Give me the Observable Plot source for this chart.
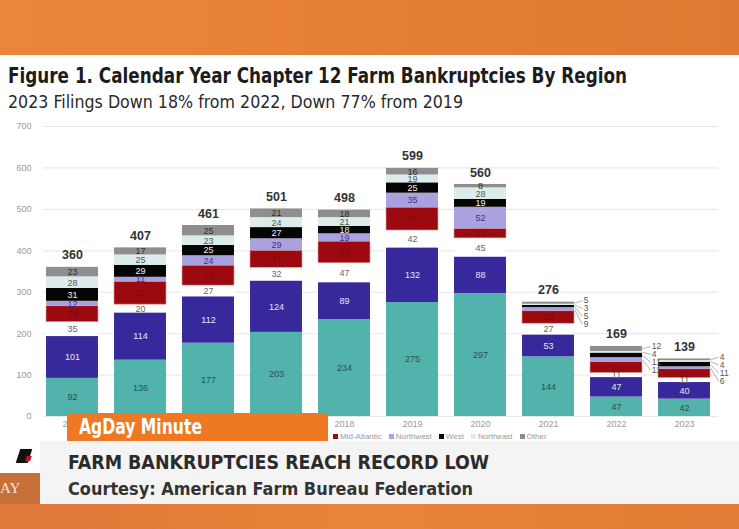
<!DOCTYPE html>
<html><head><meta charset="utf-8">
<script src="https://cdn.jsdelivr.net/npm/d3@7"></script>
<script src="https://cdn.jsdelivr.net/npm/@observablehq/plot@0.6"></script>
<style>
body{margin:0;width:739px;height:529px;overflow:hidden;background:#fff;position:relative;font-family:"DejaVu Sans Condensed","Liberation Sans",sans-serif;}
#topband{position:absolute;left:0;top:0;width:739px;height:55px;background:linear-gradient(90deg,#ea8639,#e67f36 50%,#df7832);}
#botband{position:absolute;left:0;top:504px;width:739px;height:25px;background:linear-gradient(90deg,#e0783a,#e88438 50%,#e27c36);}
.fit{position:absolute;white-space:nowrap;transform-origin:0 0;}
#title{left:8px;top:64px;font-size:21px;font-weight:bold;color:#1c1c1c;}
#subtitle{left:8px;top:91px;font-size:18px;color:#2a2a2a;}
#chart{position:absolute;left:0;top:0;}
.leg{position:absolute;top:432px;font-size:8px;color:#9a9a9a;white-space:nowrap;display:flex;gap:7px;font-family:"Liberation Sans",sans-serif;}
.leg span i{display:inline-block;width:5px;height:5px;margin-right:2px;vertical-align:middle;}
#agday{position:absolute;left:67px;top:413px;width:261px;height:28px;background:#ef7822;}
#agtext{left:79px;top:414px;color:#fff;font-weight:bold;font-size:22px;}
#lower{position:absolute;left:40px;top:441px;width:699px;height:63px;background:#f4f4f4;}
#head{left:68px;top:450px;font-size:20px;font-weight:bold;color:#2b2b2b;}
#court{left:68px;top:478px;font-size:18.5px;font-weight:bold;color:#333;}
#aybox{position:absolute;left:0;top:473px;width:40px;height:31px;background:#c8703a;color:#f3e6dc;font-family:"Liberation Serif",serif;font-size:15px;line-height:31px;overflow:hidden;}
#logo{position:absolute;left:18px;top:449px;width:12px;height:14px;background:#111;transform:skewX(-18deg);}
#logo2{position:absolute;left:26px;top:456px;width:5px;height:5px;background:#c0122b;transform:skewX(-18deg);}
</style></head><body>
<div id="topband"></div>
<div class="fit" id="title" data-w="619">Figure 1. Calendar Year Chapter 12 Farm Bankruptcies By Region</div>
<div class="fit" id="subtitle" data-w="455">2023 Filings Down 18% from 2022, Down 77% from 2019</div>
<div id="chart"></div>
<div class="leg" id="legB"></div>
<div id="lower"></div>
<div id="agday"></div>
<div class="fit" id="agtext" data-w="123">AgDay Minute</div>
<div id="logo"></div><div id="logo2"></div>
<div class="fit" id="head" data-w="421">FARM BANKRUPTCIES REACH RECORD LOW</div>
<div class="fit" id="court" data-w="405">Courtesy: American Farm Bureau Federation</div>
<div id="aybox">AY</div>
<div id="botband"></div>
<script>
const years = ["2014","2015","2016","2017","2018","2019","2020","2021","2022","2023"];
const regions = ["Midwest","Southeast","Southwest","Mid-Atlantic","Northwest","West","Northeast","Other"];
const midwest     = [92,136,177,203,234,275,297,144,47,42];
const southeast   = [101,114,112,124,89,132,88,53,47,40];
const southwest   = [35,20,27,32,47,42,45,27,11,11];
const midAtlantic = [38,55,48,41,52,55,23,30,26,21];
const northwest   = [12,11,24,29,19,35,52,9,11,6];
const west        = [31,29,25,27,18,25,19,5,11,11];
const northeast   = [28,25,23,24,21,19,28,3,4,4];
const other       = [23,17,25,21,18,16,8,5,12,4];
const totals      = [360,407,461,501,498,599,560,276,169,139];
const yTicks      = [0,100,200,300,400,500,600,700];

const series = [midwest,southeast,southwest,midAtlantic,northwest,west,northeast,other];
const fills  = ["#52b2ac","#37299c","#ffffff","#9c0a10","#a9a2df","#050505","#dcecea","#8e8e8e"];
const textC  = ["#2f4f4c","#e6e6f4","#666666","#7a0b0f","#3a318e","#f2f2f2","#4c5c5a","#2e2e2e"];

// fit text widths
document.querySelectorAll(".fit").forEach(el => {
  const w = el.getBoundingClientRect().width;
  el.style.transform = `scaleX(${(+el.dataset.w)/w})`;
});

// stack
const segs = [];
years.forEach((yr,i)=>{
  let base = 0;
  series.forEach((s,k)=>{
    const v = s[i];
    segs.push({i, k, v, y1: base, y2: base+v, mid: base+v/2, fill: fills[k], tc: textC[k],
      callout: i>=7 && k>=4});
    base += v;
  });
});
// callout layout: spread labels vertically (min spacing in value units)
const gap = 19;
const callouts = [];
for (let i=7;i<years.length;i++){
  const cs = segs.filter(d=>d.i===i && d.callout).sort((a,b)=>b.mid-a.mid);
  let y = totals[i] + 14;
  cs.forEach((d,j)=>{ const ly = Math.min(y, d.mid + 6); callouts.push({...d, ly}); y = ly - gap; });
}
const inside = segs.filter(d=>!d.callout && d.v>0);

const bw = 0.382;
const plot = Plot.plot({
  width: 739, height: 445,
  marginTop: 126, marginBottom: 29, marginLeft: 34, marginRight: 19,
  x: {domain: [-0.5, 9.5], range: [38, 718], axis: null},
  y: {domain: [0, 700], axis: null},
  color: {type: "identity"},
  style: {background: "transparent", fontFamily: "'Liberation Sans',sans-serif", overflow: "visible"},
  marks: [
    Plot.ruleY(yTicks, {stroke: "#e6e6e6", strokeWidth: 1, insetLeft: 9, insetRight: 2}),
    Plot.axisY({ticks: yTicks, tickSize: 0, tickPadding: 3, fontSize: 9, fill: "#9a9a9a", label: null}),
    Plot.axisX({ticks: d3.range(years.length), tickFormat: i => years[i], tickSize: 0, tickPadding: 4,
      fontSize: 9, fill: "#9a9a9a", label: null}),
    Plot.rect(segs, {x1: d => d.i - bw, x2: d => d.i + bw, y1: "y1", y2: "y2", fill: "fill",
      stroke: d => d.k===3 ? "#e38a8e" : "none", strokeWidth: 0.6, inset: 0}),
    Plot.text(inside, {x: "i", y: "mid", text: d => String(d.v), fill: "tc", fontSize: 9}),
    Plot.link(callouts, {x1: d => d.i + bw, y1: "mid", x2: d => d.i + 0.5, y2: "ly", stroke: "#a0a0a0", strokeWidth: 0.8}),
    Plot.text(callouts, {x: d => d.i + 0.52, y: "ly", text: d => String(d.v), textAnchor: "start", fill: "#555", fontSize: 8.5}),
    Plot.text(totals, {x: (d,i) => i, y: d => d, text: d => String(d), dy: -12, fontSize: 12.5, fontWeight: "bold", fill: "#333"})
  ]
});
document.getElementById("chart").appendChild(plot);

// legend: only the entries not covered by the AgDay box are visible in the reference
function item(k){ return `<span><i style="background:${fills[k]==="#ffffff"?"#f0f0f0":fills[k]}"></i>${regions[k]}</span>`; }
const legB = document.getElementById("legB");
legB.innerHTML = [3,4,5,6,7].map(item).join("");
legB.style.left = "333px";
</script>
</body></html>
